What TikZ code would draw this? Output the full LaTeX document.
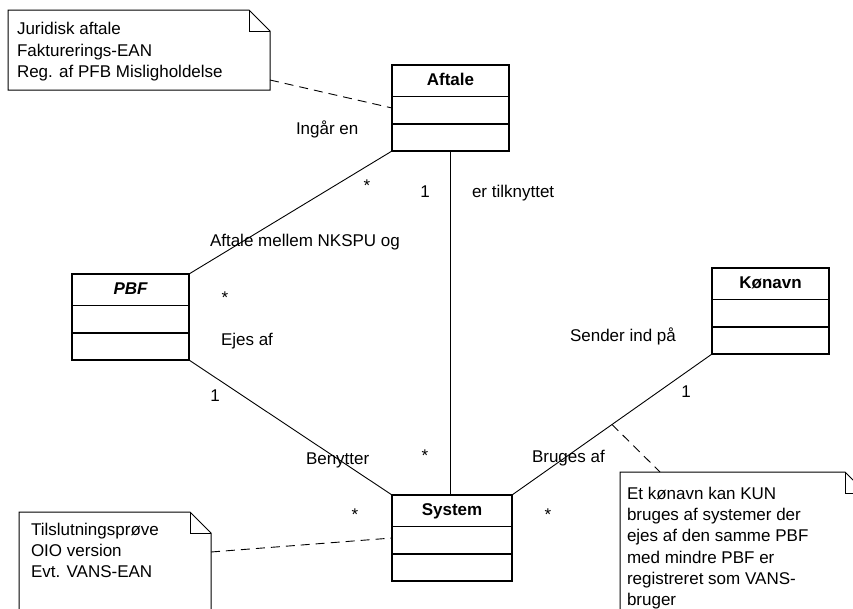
\documentclass[tikz,border=0pt]{standalone}
\usepackage{fontspec}
\setmainfont{Liberation Sans}
\usetikzlibrary{calc}
\begin{document}
\begin{tikzpicture}[x=1pt,y=-1pt,
  every node/.style={font=\fontsize{17}{21.3}\selectfont, inner sep=0pt, outer sep=0pt},
  classbox/.style={draw, line width=1.3pt, minimum width=117pt, minimum height=86pt},
  classtitle/.style={anchor=base, font=\bfseries\fontsize{17}{21}\selectfont},
  divider/.style={line width=1.3pt},
  conn/.style={line width=0.9pt},
  notedash/.style={line width=0.9pt, dash pattern=on 9pt off 6pt},
  noteline/.style={line width=1pt},
  notebox/.style={minimum width=#1},
  notetext/.style={anchor=north west, align=left},
  lbl/.style={anchor=base west},
  mult/.style={anchor=base},
]
\clip (0,0) rectangle (853,608);

% class boxes
\node[classbox] (aftale) at (450.5,108) {};
\node[classbox] (pbf) at (130.5,317) {};
\node[classbox] (koenavn) at (770.5,311) {};
\node[classbox, minimum width=120pt] (system) at (452,538) {};

\foreach \c in {aftale,pbf,koenavn,system}{
  \draw[divider] ($(\c.north west)+(0,31.5)$) -- ($(\c.north east)+(0,31.5)$);
  \draw[divider] ($(\c.north west)+(0,59)$) -- ($(\c.north east)+(0,59)$);
}
\node[classtitle] (aftaleT) at ($(aftale.north)+(0,20.5)$) {Aftale};
\node[classtitle, font=\bfseries\itshape\fontsize{17}{21}\selectfont] (pbfT) at ($(pbf.north)+(0,20.5)$) {PBF};
\node[classtitle] (koenavnT) at ($(koenavn.north)+(0,20.5)$) {Kønavn};
\node[classtitle] (systemT) at ($(system.north)+(0,20.5)$) {System};

% associations
\draw[conn] (aftale.south west) -- (pbf.north east);
\draw[conn] (aftale.south) -- (aftale.south |- system.north);
\draw[conn] (pbf.south east) -- (system.north west);
\draw[conn] (koenavn.south west) -- coordinate[pos=0.5] (kmid) (system.north east);

% notes
\node[minimum width=262pt, minimum height=80pt] (note1) at (139,50) {};
\node[minimum width=192pt, minimum height=128pt] (note2) at (115,576) {};
\node[minimum width=246pt, minimum height=168pt] (note3) at (743,556) {};
\foreach \n in {note1,note2,note3}{
  \draw[noteline] (\n.north west) -- ($(\n.north east)+(-21,0)$) -- ($(\n.north east)+(0,21)$)
     -- (\n.south east) -- (\n.south west) -- cycle;
  \draw[noteline] ($(\n.north east)+(-21,0)$) -- ($(\n.north east)+(-21,21)$) -- ($(\n.north east)+(0,21)$);
}
\node[notetext] (t1) at (17,22.5) {Juridisk aftale\\Fakturerings-EAN\\Reg. af PFB Misligholdelse};
\node[notetext] (t2) at (31,523) {Tilslutningsprøve\\OIO version\\Evt. VANS-EAN};
\node[notetext] (t3) at (627,487) {Et kønavn kan KUN\\bruges af systemer der\\ejes af den samme PBF\\med mindre PBF er\\registreret som VANS-\\bruger};

% note connectors
\coordinate (n1a) at ($(note1.south east)+(0,-10)$);
\coordinate (n2a) at ($(note2.north east)+(0,40)$);
\coordinate (n3a) at ($(note3.north west)+(40,0)$);
\draw[notedash] (n1a) -- (aftale.west);
\draw[notedash] (n2a) -- (system.west);
\draw[notedash] (kmid) -- (n3a);

% labels
\node[lbl] (l1) at (296,134) {Ingår en};
\node[mult] (m1) at (367,191) {*};
\node[mult] (m2) at (425,197) {1};
\node[lbl] (l2) at (472,197) {er tilknyttet};
\node[lbl] (l3) at (210,246) {Aftale mellem NKSPU og};
\node[mult] (m3) at (225,303) {*};
\node[lbl] (l4) at (221,345) {Ejes af};
\node[mult] (m4) at (215,401) {1};
\node[lbl] (l5) at (306,464) {Benytter};
\node[mult] (m5) at (425,461) {*};
\node[lbl] (l6) at (532,462) {Bruges af};
\node[mult] (m6) at (355,520) {*};
\node[mult] (m7) at (548,520) {*};
\node[lbl] (l7) at (570,341) {Sender ind på};
\node[mult] (m8) at (686,397) {1};
\end{tikzpicture}
\end{document}
